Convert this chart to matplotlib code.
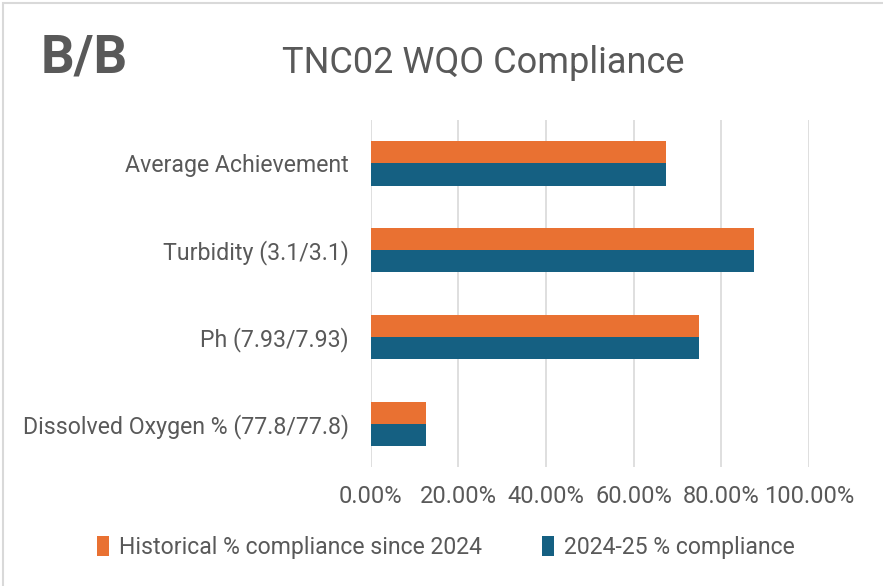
import matplotlib.pyplot as plt
import numpy as np
from matplotlib.patches import Rectangle

plt.rcParams['font.family'] = ['Roboto', 'DejaVu Sans']

categories = ['Average Achievement', 'Turbidity (3.1/3.1)', 'Ph (7.93/7.93)',
              'Dissolved Oxygen % (77.8/77.8)']
historical = [0.675, 0.875, 0.75, 0.125]
current = [0.675, 0.875, 0.75, 0.125]
series_names = ['Historical % compliance since 2024', '2024-25 % compliance']
ticks = [0, 0.2, 0.4, 0.6, 0.8, 1.0]

orange = '#E97132'
blue = '#156082'
grey = '#595959'

fig = plt.figure(figsize=(8.83, 5.86), dpi=100)
ax = fig.add_axes([0.420, 0.203, 0.496, 0.592])

y = np.arange(len(categories))
h = 0.254
ax.barh(y - h / 2, historical, height=h, color=orange, label=series_names[0])
ax.barh(y + h / 2, current, height=h, color=blue, label=series_names[1])

ax.set_ylim(len(categories) - 0.5, -0.5)
ax.set_xlim(0, 1.0)
ax.set_yticks(y)
ax.set_yticklabels(categories, fontsize=16.7, color=grey)
ax.set_xticks(ticks)
ax.set_xticklabels(['%.2f%%' % (t * 100) for t in ticks], fontsize=17, color=grey)
ax.tick_params(axis='both', length=0)
ax.tick_params(axis='y', pad=16)
ax.tick_params(axis='x', pad=13)
ax.grid(axis='x', color='#d9d9d9', linewidth=1.2)
ax.set_axisbelow(True)
for s in ax.spines.values():
    s.set_visible(False)

fig.text(0.046, 0.901, 'B/B', fontsize=38, fontweight='bold', color=grey, va='center')
fig.text(0.547, 0.893, 'TNC02 WQO Compliance', fontsize=26, color=grey,
         ha='center', va='center')

fig.legend(loc='center', bbox_to_anchor=(0.505, 0.066), ncol=2, frameon=False,
           fontsize=16.6, labelcolor=grey, handlelength=0.5, handleheight=1.0,
           handletextpad=0.45, columnspacing=2.6)

# light outline round the chart area
fig.patches.append(Rectangle((0.003, -0.01), 1.2, 1.0055, transform=fig.transFigure,
                             fill=False, edgecolor='#d9d9d9', linewidth=1.5))

fig.savefig('out.png', dpi=100)
